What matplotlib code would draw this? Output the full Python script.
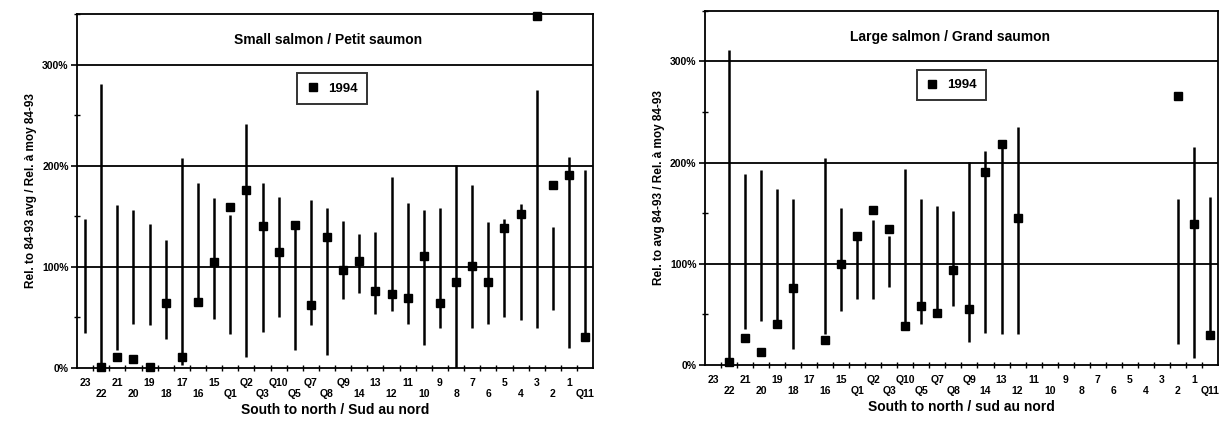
import numpy as np
import matplotlib
matplotlib.use('Agg')
import matplotlib.pyplot as plt
from matplotlib.pyplot import MultipleLocator

plt.rcParams['font.family'] = ['Liberation Sans', 'DejaVu Sans']
plt.rcParams['font.weight'] = 'bold'
plt.rcParams['axes.labelweight'] = 'bold'

nan = np.nan
rivers = ['23', '22', '21', '20', '19', '18', '17', '16', '15', 'Q1', 'Q2', 'Q3', 'Q10', 'Q5', 'Q7', 'Q8',
          'Q9', '14', '13', '12', '11', '10', '9', '8', '7', '6', '5', '4', '3', '2', '1', 'Q11']

# small salmon: range 84-93 (min / max) and 1994 value, % of 84-93 average
small_min = [35, 0, 18, 44, 43, 29, 3, 62, 49, 34, 11, 36, 50, 18, 43, 13,
             68, 74, 53, 56, 44, 23, 40, 0, 40, 44, 50, 48, 40, 57, 20, 31]
small_max = [147, 281, 161, 156, 142, 127, 208, 183, 168, 151, 241, 183, 169, 141, 166, 158,
             145, 133, 135, 189, 163, 156, 158, 201, 181, 144, 147, 162, 275, 139, 209, 196]
small_1994 = [nan, 1, 11, 9, 1, 64, 11, 65, 105, 159, 176, 140, 115, 141, 62, 130,
              97, 106, 76, 73, 69, 111, 64, 85, 101, 85, 138, 152, 348, 181, 191, 31]

# large salmon
large_min = [nan, 0, 36, 44, 41, 16, nan, 31, 53, 65, 65, 77, 35, 41, 51, 58,
             23, 32, 31, 31, nan, nan, nan, nan, nan, nan, nan, nan, nan, 21, 7, 30]
large_max = [nan, 311, 189, 193, 174, 164, nan, 204, 155, 127, 143, 127, 194, 164, 157, 152,
             201, 211, 218, 235, nan, nan, nan, nan, nan, nan, nan, nan, nan, 164, 215, 166]
large_1994 = [nan, 3, 27, 13, 41, 76, nan, 25, 100, 127, 153, 134, 39, 58, 51, 94,
              55, 191, 218, 145, nan, nan, nan, nan, nan, nan, nan, nan, nan, 266, 139, 30]

fig = plt.figure(figsize=(12.32, 4.26), dpi=100)
ax1 = fig.add_axes([0.0625, 0.136, 0.419, 0.831])
ax2 = fig.add_axes([0.5722, 0.143, 0.4164, 0.832])

panels = [
    (ax1, small_min, small_max, small_1994, 'Small salmon / Petit saumon',
     'Rel. to 84-93 avg / Rel. à moy 84-93', 'South to north / Sud au nord', 0.487, 0.494),
    (ax2, large_min, large_max, large_1994, 'Large salmon / Grand saumon',
     'Rel. to avg 84-93 / Rel. à moy 84-93', 'South to north / sud au nord', 0.478, 0.48),
]

x = np.arange(len(rivers))
labels = [r if i % 2 == 0 else '\n' + r for i, r in enumerate(rivers)]

for ax, lo, hi, v, title, ylab, xlab, tx, lx in panels:
    for g in [100, 200, 300]:
        ax.axhline(g, color='black', lw=1.3, zorder=1)
    ax.vlines(x, lo, hi, color='black', lw=1.8, zorder=2)
    ax.plot(x, v, 's', color='black', markersize=6, zorder=3, label='1994', clip_on=False)
    ax.set_xlim(-0.5, 31.5)
    ax.set_ylim(0, 350)
    ax.set_yticks([0, 100, 200, 300])
    ax.set_yticklabels(['0%', '100%', '200%', '300%'], fontsize=7.5, fontweight='bold')
    ax.yaxis.set_minor_locator(MultipleLocator(50))
    ax.set_xticks(x)
    ax.set_xticklabels(labels, fontsize=7.5, linespacing=1.15, fontweight='bold')
    ax.set_xticks(np.arange(0.5, 31, 1), minor=True)
    ax.tick_params(axis='x', which='major', length=0, pad=7)
    ax.tick_params(axis='x', which='minor', direction='inout', length=5, width=1)
    ax.tick_params(axis='y', which='major', direction='out', length=4, width=1.2, pad=2)
    ax.tick_params(axis='y', which='minor', direction='inout', length=4, width=1)
    for s in ax.spines.values():
        s.set_linewidth(1.3)
    ax.text(tx, 0.926, title, transform=ax.transAxes, ha='center', va='center', fontsize=10,
            fontweight='bold')
    ax.set_ylabel(ylab, fontsize=8.5, labelpad=4, fontweight='bold')
    ax.set_xlabel(xlab, fontsize=10, labelpad=3, fontweight='bold')
    leg = ax.legend(loc='center', bbox_to_anchor=(lx, 0.79), fontsize=9.5, frameon=True,
                    fancybox=False, handletextpad=0.6, borderpad=0.7, handlelength=1.0,
                    prop={'weight': 'bold', 'size': 9.5})
    leg.get_frame().set_edgecolor('black')
    leg.get_frame().set_linewidth(1.4)

plt.savefig('out.png', dpi=100)
